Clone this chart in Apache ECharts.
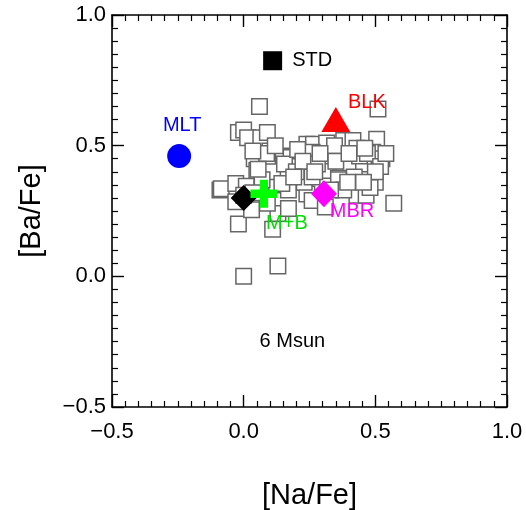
<!DOCTYPE html>
<html>
<head>
<meta charset="utf-8">
<script src="https://cdn.jsdelivr.net/npm/echarts@6/dist/echarts.min.js"></script>
<style>
  html, body { margin: 0; padding: 0; background: #fff; }
  #chart { width: 526px; height: 510px; }
</style>
</head>
<body>
<div id="chart"></div>
<script>
// Individual model stars: [Na/Fe] and [Ba/Fe]
const starNaFe = [
  0.06, 0.51, -0.02, 0.00, 0.015, 0.065, 0.09, 0.10, 0.04, 0.087,
  0.15, 0.18, 0.195, 0.24, 0.265, 0.315, 0.26, 0.25, 0.225, 0.15,
  0.315, 0.31, 0.38, 0.415, 0.43, 0.505, 0.49, 0.525, 0.38, 0.405,
  0.455, 0.36, 0.43, 0.465, 0.50, 0.57, -0.09, -0.085, -0.03, 0.01,
  0.125, 0.17, 0.24, 0.05, 0.11, 0.155, 0.035, -0.02, 0.11, 0.13,
  0.17, 0.03, -0.03, 0.13, 0.00, 0.145, 0.23, 0.26, 0.31, 0.42,
  0.48, 0.36, 0.335, 0.345, 0.44, 0.47, 0.52, 0.20, 0.07, 0.09,
  0.28, 0.38, 0.33, 0.26, 0.205, 0.00, 0.395, 0.12, 0.055, 0.225,
  0.29, 0.35, 0.40, 0.46, 0.54, 0.50, 0.27, 0.19, 0.035, 0.455
];
const starBaFe = [
  0.65, 0.64, 0.55, 0.56, 0.53, 0.53, 0.55, 0.48, 0.45, 0.47,
  0.46, 0.455, 0.42, 0.505, 0.505, 0.51, 0.475, 0.43, 0.36, 0.35,
  0.445, 0.405, 0.52, 0.52, 0.49, 0.525, 0.475, 0.45, 0.43, 0.43,
  0.43, 0.375, 0.31, 0.31, 0.36, 0.28, 0.33, 0.335, 0.355, 0.345,
  0.35, 0.33, 0.315, 0.405, 0.40, 0.43, 0.48, 0.20, 0.18, 0.24,
  0.26, 0.255, 0.285, 0.04, 0.00, 0.355, 0.36, 0.29, 0.265, 0.38,
  0.34, 0.37, 0.46, 0.50, 0.46, 0.47, 0.42, 0.40, 0.37, 0.28,
  0.43, 0.33, 0.33, 0.38, 0.485, 0.31, 0.36, 0.50, 0.41, 0.44,
  0.47, 0.44, 0.47, 0.49, 0.47, 0.40, 0.40, 0.38, 0.32, 0.36
];

// Summary models
const modelNames = ['STD', 'MLT', 'BLK', 'M+B', 'MBR', 'REF'];
const modelNaFe  = [0.11, -0.245, 0.35, 0.077, 0.305, 0.0];
const modelBaFe  = [0.825, 0.46, 0.60, 0.316, 0.316, 0.30];

const xTickLabels = ['\u22120.5', '0.0', '0.5', '1.0'];
const yTickLabels = ['\u22120.5', '0.0', '0.5', '1.0'];
const massNote = '6 Msun';
const massNoteAt = [0.185, -0.25];

const FONT = '"Liberation Sans", Arial, Helvetica, sans-serif';
const crossPath = 'path://M35,0H65V35H100V65H65V100H35V65H0V35H35Z';

const chart = echarts.init(document.getElementById('chart'), null, { renderer: 'canvas' });

function axisCommon(showLabels, labels, margin) {
  return {
    type: 'value',
    min: -0.5, max: 1.0, interval: 0.5,
    axisLine: { show: true, onZero: false, lineStyle: { color: '#000', width: 1.6 } },
    axisTick: { show: true, inside: true, length: 12, lineStyle: { color: '#000', width: 1.4 } },
    minorTick: { show: true, splitNumber: 10, length: 6, lineStyle: { color: '#000', width: 1.2 } },
    splitLine: { show: false },
    minorSplitLine: { show: false },
    axisLabel: {
      show: showLabels, margin: margin,
      color: '#000', fontFamily: FONT, fontSize: 22,
      formatter: (v, i) => labels[i]
    }
  };
}

const stars = starNaFe.map((x, i) => [x, starBaFe[i]]);
const pt = i => [[modelNaFe[i], modelBaFe[i]]];
const labelStyle = (text, color) => ({
  show: true, formatter: text, color: color, fontFamily: FONT, fontSize: 20, opacity: 1
});

chart.setOption({
  animation: false,
  backgroundColor: '#fff',
  grid: { left: 112, right: 19, top: 15, bottom: 103, show: false,
          containLabel: false, outerBoundsMode: 'none' },
  xAxis: [
    Object.assign(axisCommon(true, xTickLabels, 14), {
      position: 'bottom',
      name: '[Na/Fe]', nameLocation: 'middle', nameGap: 74,
      nameTextStyle: { fontFamily: FONT, fontSize: 29, color: '#000' }
    }),
    Object.assign(axisCommon(false, xTickLabels, 14), { position: 'top' })
  ],
  yAxis: [
    Object.assign(axisCommon(true, yTickLabels, 6), {
      position: 'left',
      name: '[Ba/Fe]', nameLocation: 'middle', nameGap: 66,
      nameTextStyle: { fontFamily: FONT, fontSize: 29, color: '#000' }
    }),
    Object.assign(axisCommon(false, yTickLabels, 6), { position: 'right' })
  ],
  series: [
    {
      type: 'scatter', data: stars, symbol: 'rect', symbolSize: 15.5,
      itemStyle: { color: '#fff', borderColor: '#666', borderWidth: 1.5, opacity: 1 },
      z: 2
    },
    {
      name: 'STD', type: 'scatter', data: pt(0), symbol: 'rect', symbolSize: 19,
      itemStyle: { color: '#000', opacity: 1 }, z: 3,
      label: Object.assign(labelStyle(modelNames[0], '#000'), { position: 'right', distance: 10 })
    },
    {
      name: 'MLT', type: 'scatter', data: pt(1), symbol: 'circle', symbolSize: 24,
      itemStyle: { color: '#0000ff', opacity: 1 }, z: 3,
      label: Object.assign(labelStyle(modelNames[1], '#0000ff'), { position: 'inside', offset: [3, -30.5] })
    },
    {
      name: 'BLK', type: 'scatter', data: pt(2), symbol: 'triangle', symbolSize: [29, 25],
      itemStyle: { color: '#ff0000', opacity: 1 }, z: 3,
      label: Object.assign(labelStyle(modelNames[2], '#ff0000'), { position: 'inside', offset: [31, -17] })
    },
    {
      name: 'REF', type: 'scatter', data: pt(5), symbol: 'diamond', symbolSize: [26, 26],
      itemStyle: { color: '#000', opacity: 1 }, z: 3
    },
    {
      name: 'M+B', type: 'scatter', data: pt(3), symbol: crossPath, symbolSize: [27, 28],
      itemStyle: { color: '#00ff00', opacity: 1 }, z: 4,
      label: Object.assign(labelStyle(modelNames[3], '#00dd00'), { position: 'inside', offset: [23, 30] })
    },
    {
      name: 'MBR', type: 'scatter', data: pt(4), symbol: 'diamond', symbolSize: [26, 27],
      itemStyle: { color: '#ff00ff', opacity: 1 }, z: 3,
      label: Object.assign(labelStyle(modelNames[4], '#ff00ff'), { position: 'inside', offset: [28, 18] })
    },
    {
      type: 'scatter', data: [massNoteAt], symbolSize: 0, z: 3,
      itemStyle: { opacity: 1 },
      label: Object.assign(labelStyle(massNote, '#000'), { position: 'inside' })
    }
  ]
});
</script>
</body>
</html>
